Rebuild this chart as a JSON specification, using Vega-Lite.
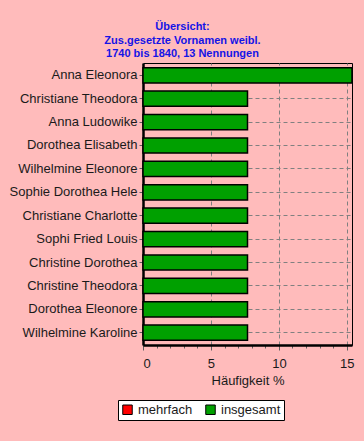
{
  "$schema": "https://vega.github.io/schema/vega-lite/v6.json",
  "autosize": {"type": "none"},
  "width": 209,
  "height": 282,
  "padding": {"left": 143, "top": 63, "right": 12, "bottom": 96},
  "background": "#FFBBBB",
  "title": {
    "text": ["Übersicht:", "Zus.gesetzte Vornamen weibl.", "1740 bis 1840, 13 Nennungen"],
    "font": "Liberation Sans",
    "fontSize": 11,
    "fontWeight": "bold",
    "color": "#1414E6",
    "anchor": "middle",
    "frame": "group",
    "dx": -65,
    "lineHeight": 13.5,
    "offset": 4
  },
  "config": {
    "view": {"stroke": "#000000", "strokeWidth": 1},
    "font": "Liberation Sans"
  },
  "data": {
    "values": [
      {"name": "Anna Eleonora", "art": "insgesamt", "wert": 15.38},
      {"name": "Christiane Theodora", "art": "insgesamt", "wert": 7.69},
      {"name": "Anna Ludowike", "art": "insgesamt", "wert": 7.69},
      {"name": "Dorothea Elisabeth", "art": "insgesamt", "wert": 7.69},
      {"name": "Wilhelmine Eleonore", "art": "insgesamt", "wert": 7.69},
      {"name": "Sophie Dorothea Hele", "art": "insgesamt", "wert": 7.69},
      {"name": "Christiane Charlotte", "art": "insgesamt", "wert": 7.69},
      {"name": "Sophi Fried Louis", "art": "insgesamt", "wert": 7.69},
      {"name": "Christine Dorothea", "art": "insgesamt", "wert": 7.69},
      {"name": "Christine Theodora", "art": "insgesamt", "wert": 7.69},
      {"name": "Dorothea Eleonore", "art": "insgesamt", "wert": 7.69},
      {"name": "Wilhelmine Karoline", "art": "insgesamt", "wert": 7.69}
    ]
  },
  "mark": {"type": "bar", "stroke": "#000000", "strokeWidth": 1.5},
  "encoding": {
    "y": {
      "field": "name",
      "type": "nominal",
      "sort": null,
      "scale": {"paddingInner": 0.35, "paddingOuter": 0.2},
      "axis": {
        "title": null,
        "labelFontSize": 13,
        "labelColor": "#1a1a1a",
        "labelPadding": 2,
        "tickSize": 4,
        "tickColor": "#606060",
        "domainColor": "#000000",
        "domainWidth": 2.5,
        "grid": true,
        "gridColor": "#808080",
        "gridDash": [4, 3],
        "gridWidth": 1
      }
    },
    "x": {
      "field": "wert",
      "type": "quantitative",
      "scale": {"domain": [0, 15.38], "nice": false},
      "axis": {
        "title": "Häufigkeit %",
        "titleFont": "Liberation Sans",
        "titleFontSize": 13,
        "titleFontWeight": "normal",
        "titleColor": "#1a1a1a",
        "titlePadding": 4,
        "values": [0, 1, 2, 3, 4, 5, 6, 7, 8, 9, 10, 11, 12, 13, 14, 15],
        "labelExpr": "datum.value % 5 === 0 ? datum.label : ''",
        "labelFontSize": 13,
        "labelColor": "#1a1a1a",
        "labelPadding": 7,
        "tickSize": {"condition": {"test": "datum.value % 5 === 0", "value": 5}, "value": 3},
        "tickColor": "#606060",
        "domainColor": "#000000",
        "domainWidth": 2.5,
        "grid": true,
        "gridColor": "#808080",
        "gridDash": [4, 3],
        "gridWidth": 1,
        "gridOpacity": {"condition": {"test": "datum.value % 5 === 0", "value": 1}, "value": 0}
      }
    },
    "color": {
      "field": "art",
      "type": "nominal",
      "scale": {"domain": ["mehrfach", "insgesamt"], "range": ["#FF0000", "#00A000"]},
      "legend": {
        "title": null,
        "orient": "none",
        "legendX": -25,
        "legendY": 337,
        "direction": "horizontal",
        "columns": 2,
        "fillColor": "#FFFFFF",
        "strokeColor": "#000000",
        "padding": 3,
        "symbolType": "square",
        "symbolSize": 90,
        "symbolStrokeColor": "#000000",
        "symbolStrokeWidth": 1,
        "symbolOpacity": 1,
        "labelFontSize": 13,
        "labelColor": "#1a1a1a",
        "labelOffset": 4,
        "columnPadding": 10
      }
    }
  }
}
